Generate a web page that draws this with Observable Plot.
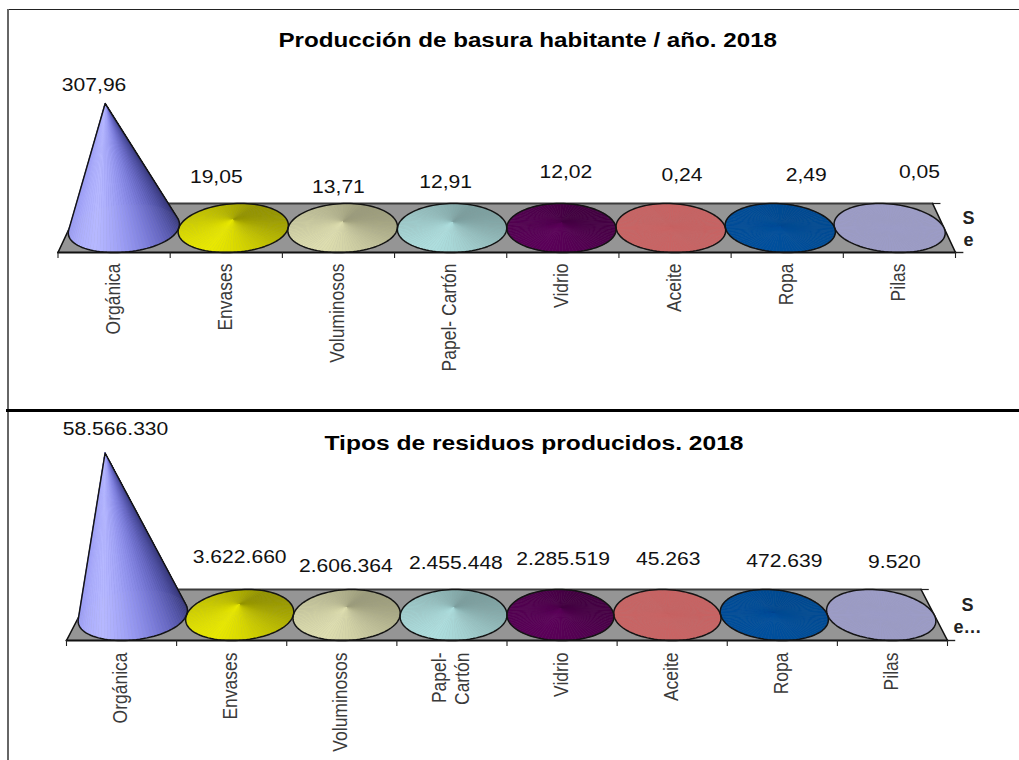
<!DOCTYPE html>
<html lang="es">
<head>
<meta charset="utf-8">
<style>
  html,body{margin:0;padding:0;background:#fff;width:1019px;height:760px;overflow:hidden;position:relative}
  svg{display:block;background:transparent}
  #chrome-top{position:absolute;left:8px;top:9px;right:0;height:0;border-top:1px solid #222}
  #chrome-left{position:absolute;left:7px;top:9px;bottom:0;width:0;border-left:2px solid #666}
  #chrome-mid{position:absolute;left:6px;top:409px;right:0;height:0;border-top:3px solid #000}
</style>
<script src="https://cdn.jsdelivr.net/npm/d3@7"></script>
<script src="https://cdn.jsdelivr.net/npm/@observablehq/plot@0.6"></script>
</head>
<body>
<div id="chrome-top"></div><div id="chrome-left"></div><div id="chrome-mid"></div>
<div id="c1"></div><div id="c2"></div>
<script>
const categories = ["Orgánica","Envases","Voluminosos","Papel- Cartón","Vidrio","Aceite","Ropa","Pilas"];
const categories2 = ["Orgánica","Envases","Voluminosos","Papel-\nCartón","Vidrio","Aceite","Ropa","Pilas"];
const kgPerPerson = [307.96,19.05,13.71,12.91,12.02,0.24,2.49,0.05];
const tonnes = [58566330,3622660,2606364,2455448,2285519,45263,472639,9520];
const coneColors = ["#b6b8ff","#e9e900","#dedeb0","#aedede","#5a0058","#c86464","#004f9c","#9c9cc6"];

// layout nudges for the hand-placed value labels (px)
const labelDx1 = [-20,-10,0,-5,3,7,19,20];
const labelDy1 = [-18,-43,-35,-41,-51,-53,-52,-56];
const labelDx2 = [-6,8,4,4,1,-4,2,2];
const labelDy2 = [-23.5,-47.5,-42,-45,-50,-56,-53,-52.5];

const locale = d3.formatLocale({decimal:",",thousands:".",grouping:[3],currency:["",""]});

// the reference is a horizontally stretched screenshot: widen text glyphs the same way
function stretch(svg,test,k){
  d3.select(svg).selectAll("text").filter(function(){return test(this);}).each(function(){
    const e=d3.select(this);
    e.attr("transform",`${e.attr("transform")||""} scale(${k},1)`);
  });
}

function coneChart(o){
  const {cats,values,fmt,title,titleDx,titleDy,legend,legendDx,height,baseY,apexY,xRange,marginBottom,ryPx,persp,lean,dxs,dys,tickPad} = o;
  const max = d3.max(values);
  const ry = ryPx/(baseY-apexY)*max;
  const sc = s => (1-persp) + persp*s;           // depth scale: s=1 front, s=-1 back
  const X = (u,s) => 4 + (u-4)*sc(s);
  const Y = s => -s*ry;
  const N = 96;
  const facets = [], hulls = [];
  values.forEach((v,i)=>{
    const r = v/max;
    const cx = i+.5;
    const apex = [4+(X(cx,0)-4)*(1+lean*r), v];
    const amp = .9*r/(r+.09);
    const base = d3.rgb(coneColors[i]);
    const ring = d3.range(N).map(k=>{
      const t = k/N*2*Math.PI;
      return {t,p:[X(cx+.5*Math.sin(t),Math.cos(t)),Y(Math.cos(t))]};
    });
    const order = d3.range(N).sort((a,b)=>Math.cos((a+.5)/N*2*Math.PI)-Math.cos((b+.5)/N*2*Math.PI));
    order.forEach(k=>{
      const a=ring[k], b=ring[(k+1)%N];
      let d=(a.t+Math.PI/N)+20*Math.PI/180;
      d=Math.atan2(Math.sin(d),Math.cos(d));
      const tt=(1-Math.cos(d))/2;
      const side = d>=0 ? 1 : .5+.5*Math.pow(Math.abs(d)/Math.PI,4);
      const sh = 1-amp*side*Math.pow(tt,.62);
      const blueKeep = Math.min(1,sh+(r>.5?.8:0)*(1-sh)*sh);
      const c = d3.rgb(base.r*sh,base.g*sh,base.b*blueKeep).formatHex();
      const f=`${i}-${k}`;
      facets.push({x:apex[0],y:apex[1],f,c},{x:a.p[0],y:a.p[1],f,c},{x:b.p[0],y:b.p[1],f,c},{x:apex[0],y:apex[1],f,c});
    });
    const hull = d3.polygonHull(ring.map(q=>q.p).concat([apex]));
    hull.push(hull[0]);
    hull.forEach(p=>hulls.push({x:p[0],y:p[1],i}));
  });
  const floor = [[0,1],[8,1],[8,-1],[0,-1],[0,1]].map(([u,s])=>({x:X(u,s),y:Y(s)}));
  const pt = (u,s)=>({x:X(u,s),y:Y(s)});
  const edge = (a,b)=>[a,b];
  const valueTexts = new Set(values.map(fmt));
  const svg = Plot.plot({
    width:1019,height,
    marginTop:0,marginRight:1019-xRange[1],marginLeft:xRange[0],marginBottom,
    style:{fontFamily:"'Liberation Sans',Arial,sans-serif",background:"transparent",color:"#111"},
    x:{domain:[0,8],range:xRange,axis:null},
    y:{domain:[0,max],range:[baseY,apexY],axis:null},
    color:{type:"identity"},
    marks:[
      Plot.line(floor,{x:"x",y:"y",fill:"#959595",stroke:"none"}),
      Plot.line(edge(pt(0,-1),pt(8,-1)),{x:"x",y:"y",stroke:"#3c3c3c",strokeWidth:2.2}),
      Plot.line(edge(pt(8,-1),pt(8,1)),{x:"x",y:"y",stroke:"#111",strokeWidth:1.6}),
      Plot.line(edge(pt(0,-1),pt(0,1)),{x:"x",y:"y",stroke:"#111",strokeWidth:1.6}),
      Plot.link([0],{x1:X(8,-1),x2:X(8,-1)+.07,y1:Y(-1),y2:Y(-1),stroke:"#222",strokeWidth:1.2}),
      Plot.link([0],{x1:8,x2:8.07,y1:Y(1),y2:Y(1),stroke:"#222",strokeWidth:1.4}),
      Plot.line(facets,{x:"x",y:"y",z:"f",fill:"c",stroke:"c",strokeWidth:.5}),
      Plot.line(hulls,{x:"x",y:"y",z:"i",stroke:"#141414",strokeWidth:1.5,curve:"linear"}),
      Plot.line(edge(pt(0,1),pt(8,1)),{x:"x",y:"y",stroke:"#111",strokeWidth:2}),
      Plot.axisX(d3.range(9),{anchor:"bottom",tickSize:6,text:null,label:null,stroke:"#222",strokeWidth:1.1}),
      Plot.axisX(d3.range(8).map(i=>i+.5),{anchor:"bottom",tickSize:0,tickPadding:tickPad,tickRotate:-90,dx:-2,
        tickFormat:d=>cats[d-.5],label:null,fontSize:20.5,lineHeight:1.15,fill:"#3a3a3a"}),
      ...values.map((v,i)=>Plot.text([fmt(v)],{x:i+.5,y:v,dx:dxs[i],dy:dys[i],text:d=>d,fontSize:18.5,fill:"#111"})),
      Plot.text([title],{x:4,frameAnchor:"top",dx:titleDx,dy:titleDy,text:d=>d,fontWeight:"bold",fontSize:20,fill:"#000",lineAnchor:"middle"}),
      Plot.text([legend],{x:8,y:0,dx:legendDx,text:d=>d,fontSize:18,lineHeight:1.22,fill:"#222",fontWeight:"bold",textAnchor:"middle"})
    ]
  });
  const catSet = new Set(cats.map(c=>c.replace("\n","")));
  stretch(svg,t=>catSet.has(t.textContent),17.5/20.5);
  stretch(svg,t=>valueTexts.has(t.textContent),1.14);
  stretch(svg,t=>t.textContent===title,o.titleStretch);
  return svg;
}

document.getElementById("c1").append(coneChart({
  cats:categories,values:kgPerPerson,fmt:locale.format(",.2f"),
  title:"Producción de basura habitante / año. 2018",titleDx:21,titleDy:40,titleStretch:1.21,
  legend:"S\ne",legendDx:13,height:411,baseY:227.5,apexY:103,xRange:[57.5,955],marginBottom:159,
  ryPx:24.5,persp:.0255,lean:.0495,dxs:labelDx1,dys:labelDy1,tickPad:11
}));
document.getElementById("c2").append(coneChart({
  cats:categories2,values:tonnes,fmt:locale.format(",d"),
  title:"Tipos de residuos producidos. 2018",titleDx:27,titleDy:32,titleStretch:1.23,
  legend:"S\ne…",legendDx:20,height:349,baseY:203.5,apexY:41.5,xRange:[66,947],marginBottom:120,
  ryPx:25.5,persp:.03,lean:.075,dxs:labelDx2,dys:labelDy2,tickPad:12
}));
</script>
</body>
</html>
